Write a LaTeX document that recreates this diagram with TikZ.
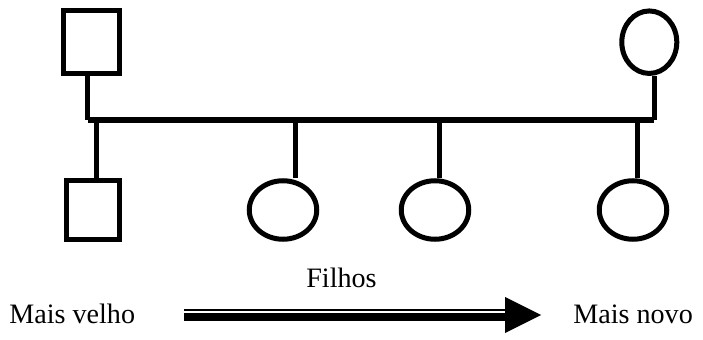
\documentclass[tikz,border=0pt]{standalone}
\usepackage{fontspec}
\setmainfont{Liberation Serif}
\usepackage{tikz}
\usetikzlibrary{shapes.geometric}

\tikzset{
  homem/.style={draw, rectangle, line width=0.1cm, inner sep=0pt, minimum width=1.11cm, minimum height=1.25cm},
  mulher/.style={draw, ellipse, line width=0.1cm, inner sep=0pt, minimum width=1.35cm, minimum height=1.17cm},
  ligacao/.style={line width=0.1cm},
  rotulo/.style={inner sep=0pt, anchor=base west, font=\fontsize{16}{19}\selectfont}
}

\begin{document}
\begin{tikzpicture}
    \useasboundingbox (0,0) rectangle (14.06,6.78);
    \node[homem] (pai) at (1.826,5.936) {};
    \node[mulher, minimum width=1.1cm, minimum height=1.25cm] (mae) at (12.986,5.936) {};
    \node[homem, minimum width=1.06cm, minimum height=1.18cm] (filho1) at (1.86,2.574) {};
    \node[mulher] (filha2) at (5.66,2.58) {};
    \node[mulher] (filha3) at (8.70,2.58) {};
    \node[mulher] (filha4) at (12.66,2.58) {};
    \coordinate (esq) at (1.75,4.386);
    \coordinate (dir) at (13.08,4.386);
    \draw[line width=0.12cm] (esq) -- (dir);
    \draw[ligacao] (esq |- pai.south) -- (esq);
    \draw[ligacao] (dir |- mae.south) -- (dir);
    \foreach \f/\x in {filho1/1.92, filha2/5.90, filha3/8.78, filha4/12.74}
        \draw[ligacao] (\x,4.386) -- (\x,0 |- \f.north);
    \node[rotulo] (velho) at (0.18,0.32) {Mais velho};
    \node[rotulo] (filhos) at (6.12,1.04) {Filhos};
    \node[rotulo] (novo) at (11.46,0.32) {Mais novo};
    \coordinate (inicio) at (3.68,0.48);
    \coordinate (fim) at (10.82,0.48);
    \draw[line width=0.15cm] ([yshift=-0.04cm]inicio) -- ([xshift=-0.72cm,yshift=-0.04cm]fim);
    \draw[line width=0.045cm] ([yshift=0.094cm]inicio) -- ([xshift=-0.72cm,yshift=0.094cm]fim);
    \fill (fim) -- ++(-0.72,0.36) -- ++(0,-0.72) -- cycle;
\end{tikzpicture}
\end{document}
